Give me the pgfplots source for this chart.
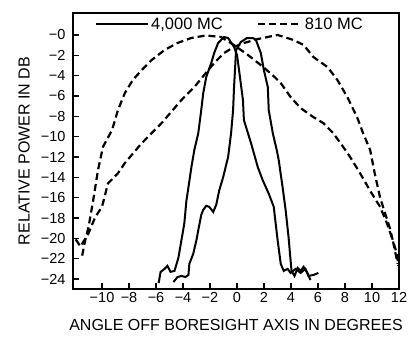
\documentclass[border=0pt]{standalone}
\usepackage{fontspec}
\setmainfont{Liberation Sans}
\usepackage{pgfplots}
\pgfplotsset{compat=1.18}
\begin{document}
\begin{tikzpicture}
\begin{axis}[
 name=ax,
 scale only axis, width=326pt, height=276pt,
 xmin=-12.15, xmax=12, ymin=-24.98, ymax=2.16,
 axis line style={line width=1.4pt},
 tick align=inside, xtick pos=bottom, ytick pos=left,
 major tick length=6pt, tick style={line width=1.2pt, black},
 xtick={-10,-8,...,12},
 xticklabels={−10,−8,−6,−4,−2,0,2,4,6,8,10,12},
 ytick={0,-2,-4,-6,-8,-10,-12,-14,-16,-18,-20,-22,-24},
 yticklabels={−0,−2,−4,−6,−8,−10,−12,−14,−16,−18,−20,−22,−24},
 ticklabel style={font=\fontsize{14.5}{14.5}\selectfont},
 yticklabel style={xshift=-4pt},
 xlabel={ANGLE OFF BORESIGHT AXIS IN DEGREES},
 ylabel={RELATIVE POWER IN DB},
 label style={font=\fontsize{16}{16}\selectfont},
 xlabel style={at={(axis description cs:0.5,-0.132)}, anchor=center},
 ylabel style={at={(axis description cs:-0.150,0.5)}, anchor=center},
 legend style={at={(axis description cs:0.0675,0.96)}, anchor=west, draw=none, fill=none,
   inner sep=0pt, font=\fontsize{16.5}{16.5}\selectfont},
 legend columns=2,
 legend cell align=left,
 legend style={/tikz/every even column/.append style={column sep=32pt}},
 clip=true,
]
\addlegendimage{legend image code/.code={\draw[black, line width=2pt] (0pt,0pt) -- (52pt,0pt);}}
\addlegendentry{4,000 MC}
\addlegendimage{legend image code/.code={\draw[black, line width=2.2pt, dash pattern=on 7pt off 4pt] (0pt,0pt) -- (44pt,0pt);}}
\addlegendentry{810 MC}

% 810 MC, left-squinted beam
\addplot[black, line width=2.2pt, dash pattern=on 7pt off 4pt, forget plot] coordinates {
(-11.47,-21.7) (-11.25,-20.2) (-11.0,-18.9) (-10.66,-16.3) (-10.3,-13.3) (-9.93,-11.0)
(-9.26,-9.36) (-8.82,-7.39) (-8.31,-5.71) (-7.72,-4.43) (-7.06,-3.45) (-6.32,-2.46)
(-5.37,-1.48) (-4.41,-0.79) (-3.4,-0.3) (-2.3,-0.05) (-1.18,-0.2) (-0.22,-1.0)
(0.81,-1.97) (1.76,-2.96) (2.6,-3.9) (3.24,-4.73) (3.97,-6.1) (4.71,-7.19) (5.66,-8.08)
(6.4,-8.67) (7.13,-9.66) (7.86,-11.0) (8.38,-12.0) (9.12,-13.6) (9.85,-15.3) (10.6,-16.9)
(11.1,-18.5) (11.54,-20.2) (11.9,-22.5)
};
% 810 MC, right-squinted beam
\addplot[black, line width=2.2pt, dash pattern=on 7pt off 4pt, forget plot] coordinates {
(-11.95,-20.1) (-11.6,-20.8) (-11.0,-19.5) (-10.5,-17.9) (-10.0,-16.9) (-9.56,-14.6)
(-8.82,-13.6) (-8.31,-12.6) (-7.06,-10.64) (-5.59,-8.67) (-4.12,-6.40) (-3.16,-5.12)
(-2.13,-3.45) (-1.69,-2.76) (-0.96,-1.77) (-0.22,-1.18) (0.51,-0.79) (1.54,-0.4)
(3.0,0) (4.2,-0.5) (4.93,-0.98) (5.66,-2.17) (6.7,-3.15) (7.44,-4.43) (8.17,-6.1)
(8.9,-8.1) (9.34,-9.66) (9.86,-11.3) (10.2,-13.6) (10.6,-16.0) (10.96,-17.5) (11.3,-18.9)
(11.54,-20.2) (11.84,-21.5) (11.95,-22.7)
};
% 4000 MC, left beam
\addplot[black, line width=2pt, forget plot] coordinates {
(-5.81,-24.4) (-5.66,-23.3) (-5.37,-23.0) (-5.15,-22.7) (-4.93,-23.3) (-4.63,-23.2)
(-4.34,-21.9) (-4.12,-20.2) (-3.90,-18.5) (-3.75,-16.3) (-3.6,-15.0) (-3.38,-13.0)
(-3.16,-11.3) (-2.87,-9.66) (-2.65,-7.39) (-2.5,-5.71) (-2.28,-4.14) (-1.91,-2.76)
(-1.69,-1.77) (-1.40,-0.79) (-0.96,-0.2) (-0.66,-0.3) (-0.22,-1.18) (0.0,-1.97)
(0.15,-3.45) (0.44,-6.4) (0.51,-8.37) (1.03,-10.6) (1.54,-13.0) (1.91,-14.3)
(2.35,-15.6) (2.72,-16.9) (3.01,-20.2) (3.24,-22.5) (3.46,-23.2) (3.75,-23.0)
(3.97,-23.4) (4.34,-23.0) (4.71,-23.4) (5.07,-23.0) (5.29,-23.7) (5.66,-23.6) (6.03,-23.4)
};
% 4000 MC, right beam
\addplot[black, line width=2pt, forget plot] coordinates {
(-4.71,-24.3) (-4.41,-23.8) (-4.12,-23.7) (-3.82,-23.8) (-3.6,-23.6) (-3.53,-22.5)
(-3.38,-22.0) (-3.24,-21.5) (-3.01,-20.2) (-2.87,-19.2) (-2.65,-17.7) (-2.5,-17.2)
(-2.28,-16.8) (-2.06,-16.9) (-1.76,-17.4) (-1.54,-16.7) (-1.32,-15.3) (-1.03,-14.0)
(-0.66,-12.0) (-0.44,-9.66) (-0.29,-7.39) (-0.22,-5.12) (-0.15,-3.45) (-0.07,-1.48)
(0.29,-0.69) (0.74,-0.3) (1.18,-0.3) (1.40,-0.49) (1.76,-1.77) (1.99,-3.45)
(2.28,-5.12) (2.35,-7.39) (2.65,-9.66) (2.94,-11.3) (3.09,-12.3) (3.38,-15.0)
(3.6,-17.2) (3.82,-19.9) (3.97,-22.2) (4.04,-23.2) (4.26,-23.7) (4.49,-22.9)
(4.71,-23.2) (4.93,-22.8) (5.22,-23.4) (5.44,-24.1)
};
\end{axis}
\pgfresetboundingbox
\path[use as bounding box] ([xshift=-73pt,yshift=-48pt]ax.south west) rectangle ([xshift=18pt,yshift=13pt]ax.north east);
\end{tikzpicture}
\end{document}
